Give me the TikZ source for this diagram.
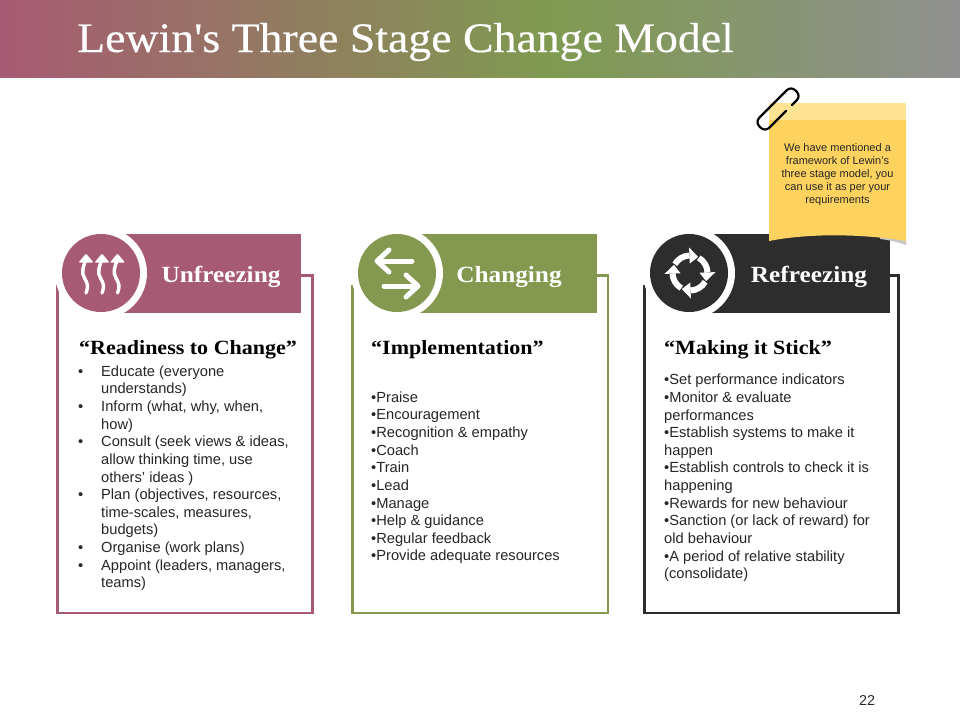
\documentclass[tikz,border=0pt]{standalone}
\usepackage{fontspec}
\setmainfont{Liberation Sans}
\newfontfamily\serifhead[FakeStretch=1.09]{Liberation Serif}
\newfontfamily\seriftitle[FakeStretch=1.09,FakeBold=0.4]{Liberation Serif}
\definecolor{rose}{HTML}{A75A73}
\definecolor{olive}{HTML}{84984F}
\definecolor{ink}{HTML}{2D2D2D}
\definecolor{titlegreen}{HTML}{7F9A50}
\definecolor{titlegray}{HTML}{909090}
\definecolor{noteb}{HTML}{FDD25F}
\definecolor{notel}{HTML}{FDE392}
\tikzset{
 panel/.style={line width=2.8pt,line join=miter},
 headtext/.style={font=\serifhead\bfseries\fontsize{23.2}{26}\selectfont,text=white,anchor=base,inner sep=0pt},
 quotetext/.style={font=\serifhead\bfseries\fontsize{20.2}{22}\selectfont,text=black,anchor=base west,inner sep=0pt},
 bodytext/.style={font=\fontsize{14.67}{17.62}\selectfont,text=black!85,anchor=north west,align=left,inner sep=0pt},
 icon/.style={draw=white,line cap=round,line join=round},
}
\newcommand{\bul}{\makebox[23pt][l]{•}}
\newcommand{\ind}{\hspace*{23pt}}
\begin{document}
\begin{tikzpicture}[x=1pt,y=-1pt]
\useasboundingbox (0,0) rectangle (960,720);
\fill[white] (0,0) rectangle (960,720);
% title band
\shade[left color=rose,right color=titlegreen] (0,0) rectangle (550,77.5);
\shade[left color=titlegreen,right color=titlegray] (550,0) rectangle (960,77.5);
\node[anchor=base west,inner sep=0pt,text=white,font=\seriftitle\fontsize{42}{48}\selectfont] (title) at (77,52) {Lewin's Three Stage Change Model};
% panel 1
\draw[panel,draw=rose] (57.5,285) -- (57.5,613) -- (312.5,613) -- (312.5,275.5) -- (295,275.5);
\fill[rose] (101,234) rectangle (301,313);
\fill[white] (101,273) circle[radius=46];
\fill[rose] (101,273) circle[radius=39];
\foreach \x in {86,102,117.5}{
 \draw[icon,line width=3.4pt] (\x,293) .. controls (\x+3,285) and (\x+1,283) .. (\x-1.5,278) .. controls (\x-5,272) and (\x-3,268) .. (\x,259);
 \fill[white,rounded corners=1pt] (\x,253.5) -- (\x+7.5,262.5) -- (\x-7.5,262.5) -- cycle;
}
\node[headtext] (h1) at (221,282) {Unfreezing};
\node[quotetext] (q1) at (79,354) {“Readiness to Change”};
\node[bodytext] (b1) at (78,365.5) {\bul Educate (everyone\\\ind understands)\\\bul Inform (what, why, when,\\\ind how)\\\bul Consult (seek views \& ideas,\\\ind allow thinking time, use\\\ind others’ ideas )\\\bul Plan (objectives, resources,\\\ind time-scales, measures,\\\ind budgets)\\\bul Organise (work plans)\\\bul Appoint (leaders, managers,\\\ind teams)};
% panel 2
\draw[panel,draw=olive] (352.5,285) -- (352.5,613) -- (608,613) -- (608,275.5) -- (590,275.5);
\fill[olive] (397,234) rectangle (597,313);
\fill[white] (397,273) circle[radius=46];
\fill[olive] (397,273) circle[radius=39];
\draw[icon,line width=5pt] (412,261) -- (378,261);
\draw[icon,line width=5pt] (389,250) -- (377,261) -- (389,272);
\draw[icon,line width=5pt] (384,286) -- (417,286);
\draw[icon,line width=5pt] (406,275) -- (418,286) -- (406,297);
\node[headtext] (h2) at (509,282) {Changing};
\node[quotetext] (q2) at (371,354) {“Implementation”};
\node[bodytext] (b2) at (371,391.5) {•Praise\\•Encouragement\\•Recognition \& empathy\\•Coach\\•Train\\•Lead\\•Manage\\•Help \& guidance\\•Regular feedback\\•Provide adequate resources};
% panel 3
\draw[panel,draw=ink] (644.5,285) -- (644.5,613) -- (898.5,613) -- (898.5,275.5) -- (882,275.5);
\fill[ink] (689,234) rectangle (890,313);
\fill[white] (689,273) circle[radius=46];
\fill[ink] (689,273) circle[radius=39];
\foreach \a in {0,-90,-180,-270}{
 \begin{scope}[shift={(690,273)},yscale=-1,rotate=\a]
 \draw[draw=white,line width=6pt] (150:17.5) arc[start angle=150,end angle=92,radius=17.5];
 \fill[white] (92:9.5) -- (92:25.5) -- (63:18) -- cycle;
 \end{scope}
}
\node[headtext] (h3) at (809,282) {Refreezing};
\node[quotetext] (q3) at (664,354) {“Making it Stick”};
\node[bodytext] (b3) at (664,374) {•Set performance indicators\\•Monitor \& evaluate\\performances\\•Establish systems to make it\\happen\\•Establish controls to check it is\\happening\\•Rewards for new behaviour\\•Sanction (or lack of reward) for\\old behaviour\\•A period of relative stability\\(consolidate)};
% sticky note
\fill[black!22] (880,236) -- (906,240) -- (906,245) .. controls (900,243) and (890,240) .. (880,239) -- cycle;
\fill[noteb] (769,120) -- (906,120) -- (906,241) .. controls (870,235) and (815,232) .. (769,241) -- cycle;
\fill[notel] (769,103) rectangle (906,120);
\node[font=\fontsize{11}{13.1}\selectfont,text=black!85,align=center,inner sep=0pt] (note) at (837.5,174.5) {We have mentioned a\\framework of Lewin's\\three stage model, you\\can use it as per your\\requirements};
% clip
\draw[black,line width=2.2pt,line cap=round,rounded corners=6pt] (786,111) -- (765,132) -- (755,122) -- (791,86) -- (801,96) -- (792,105);
\node[font=\fontsize{14.3}{17}\selectfont,text=black!85,inner sep=0pt] (page) at (867,700) {22};
\end{tikzpicture}
\end{document}
